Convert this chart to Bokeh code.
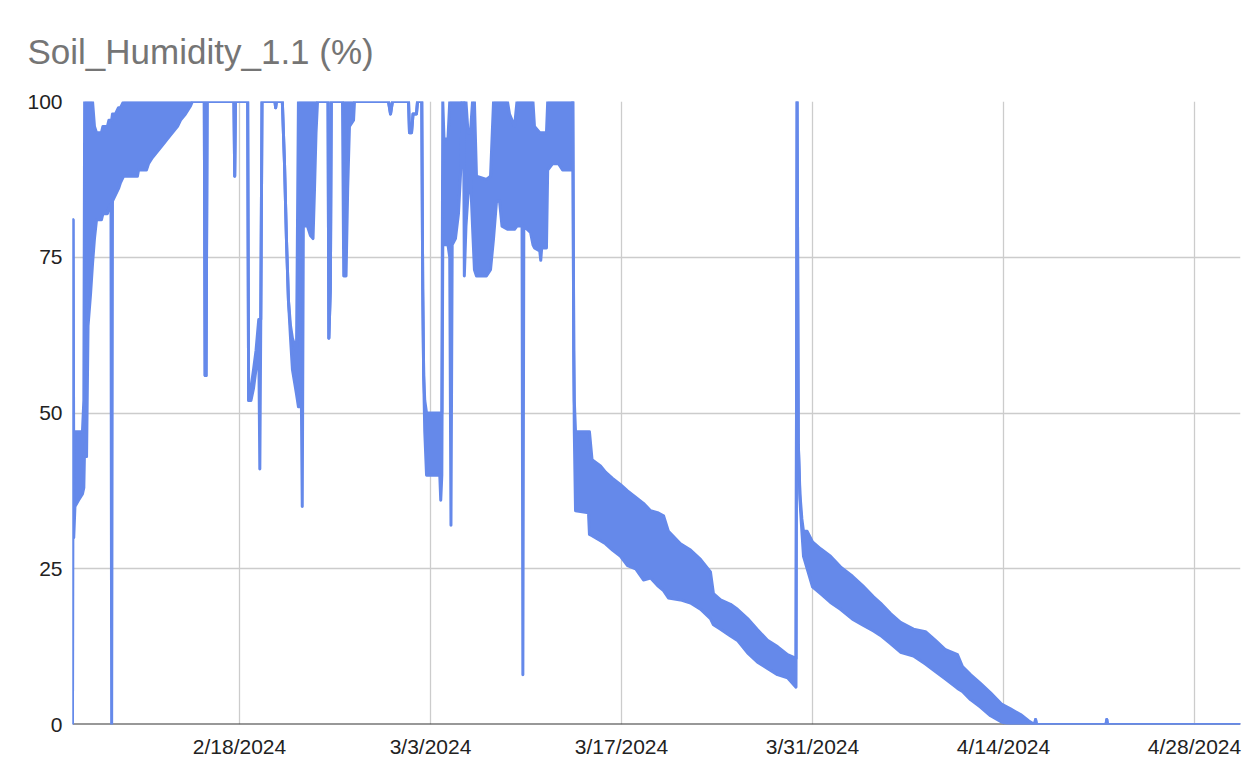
from bokeh.plotting import figure
from bokeh.models import FixedTicker, Range1d, Span, ColumnDataSource
from bokeh.embed import file_html
from bokeh.resources import INLINE

# time: days since 2024-02-18 00:00
t_days = [
    -12.24, -12.20, -12.15, -12.06, -11.80, -11.51, -11.41, -11.35, -11.21, -11.10,
    -10.92, -10.77, -10.63, -10.48, -10.12, -10.01, -9.68, -9.57, -9.42, -9.37,
    -9.31, -9.09, -8.87, -8.72, -8.50, -7.48, -7.40, -6.82, -6.67, -6.38,
    -6.01, -5.64, -5.28, -4.91, -4.54, -4.32, -3.96, -3.59, -3.45, -2.58,
    -2.52, -2.45, -2.37, -0.41, -0.35, -0.29, 0.60, 0.67, 0.84, 1.03,
    1.21, 1.41, 1.49, 1.56, 1.65, 2.60, 2.65, 2.71, 3.14, 3.30,
    3.44, 3.59, 3.74, 3.88, 4.03, 4.18, 4.32, 4.54, 4.60, 4.68,
    4.98, 5.20, 5.39, 5.50, 5.61, 5.72, 6.49, 6.55, 6.66, 6.73,
    7.55, 7.64, 7.81, 7.93, 8.06, 8.36, 8.43, 10.92, 11.07, 11.21,
    12.39, 12.46, 12.61, 12.72, 12.97, 13.05, 13.36, 13.43, 13.50, 13.58,
    13.71, 14.68, 14.75, 14.83, 14.90, 14.99, 15.28, 15.41, 15.50, 15.59,
    15.83, 16.05, 16.24, 16.31, 16.42, 16.48, 16.60, 16.75, 16.93, 17.08,
    17.22, 17.37, 18.10, 18.40, 18.62, 18.84, 19.06, 19.24, 19.64, 19.79,
    20.16, 20.34, 20.71, 20.77, 20.84, 21.33, 21.51, 21.62, 22.01, 22.08,
    22.15, 22.50, 22.59, 22.94, 23.38, 23.68, 24.37, 24.43, 24.50, 24.54,
    24.63, 25.58, 25.65, 25.84, 26.46, 26.83, 27.34, 27.93, 28.44, 29.03,
    29.61, 30.13, 30.64, 31.08, 31.44, 32.32, 33.06, 33.79, 34.52, 34.74,
    35.26, 35.99, 36.50, 37.24, 37.97, 38.70, 39.43, 40.17, 40.79, 40.87,
    40.96, 41.08, 41.22, 41.34, 41.61, 42.00, 42.59, 43.32, 44.05, 44.93,
    45.67, 46.47, 46.98, 47.72, 48.45, 49.40, 50.28, 51.01, 51.75, 52.63,
    52.99, 53.58, 54.31, 55.05, 55.85, 56.51, 57.25, 57.83, 58.27, 58.35,
    58.42, 63.51, 63.57, 63.62, 73.37,
]

# lower envelope of the reading (%)
humidity_low = [
    0, 81, 30, 35, 36, 37, 38, 45, 43, 64,
    69, 74, 78, 81, 81, 82, 82, 83, 83.5, 0,
    84, 85, 86, 87, 88, 88, 89, 89, 90, 91,
    92, 93, 94, 95, 96, 97, 98, 99.3, 100, 100,
    56, 56, 100, 100, 88, 100, 100, 52, 52, 54,
    57, 62, 41, 65, 100, 100, 99, 100, 100, 90,
    78, 68, 62, 57, 55, 53, 51, 51, 35, 80,
    80, 78.5, 78, 86, 95, 100, 100, 62, 70, 100,
    100, 72, 72, 86, 96, 97, 100, 100, 98, 100,
    100, 95, 95, 98, 98, 100, 100, 70, 56, 47,
    40, 40, 36, 40, 77, 77, 77, 75, 32, 77,
    78, 82, 90, 100, 100, 72, 80, 85, 88, 80,
    73, 72, 72, 73, 78, 84, 84, 80, 79.5, 79.5,
    79.5, 80, 80, 8, 80, 79, 77, 76.5, 76, 74.5,
    76.5, 76.5, 89, 90, 90, 89, 89, 100, 60, 47,
    34.3, 34, 30.5, 30.3, 29.5, 29, 28, 27, 25.5, 25,
    23.2, 23.5, 22.3, 21.5, 20.3, 20, 19.5, 18.5, 17, 16,
    15.3, 14.2, 13.5, 11.5, 10, 9, 8, 7.5, 6, 100,
    45, 36, 31, 27, 25, 22.1, 21, 19.6, 18.5, 16.9,
    16, 15, 14.3, 13, 11.6, 11, 9.7, 8.5, 7.3, 5.8,
    5.3, 4, 2.8, 1.4, 0.4, 0, 0, 0, 0, 0.8,
    0, 0, 0.8, 0, 0,
]

# upper envelope of the reading (%)
humidity_high = [
    0, 81, 42, 47, 47, 47, 52, 100, 100, 100,
    100, 100, 96, 95, 95, 96, 96, 97, 97, 97,
    98, 98, 99, 99, 100, 100, 100, 100, 100, 100,
    100, 100, 100, 100, 100, 100, 100, 100, 100, 100,
    56, 56, 100, 100, 88, 100, 100, 52, 54, 57,
    60, 65, 65, 65, 100, 100, 99, 100, 100, 90,
    78, 68, 64, 62, 61, 60, 100, 100, 100, 100,
    100, 100, 100, 100, 100, 100, 100, 62, 70, 100,
    100, 100, 100, 100, 100, 100, 100, 100, 98, 100,
    100, 95, 95, 98, 98, 100, 100, 70, 56, 52,
    50, 50, 50, 50, 100, 94, 94, 100, 100, 100,
    100, 100, 100, 100, 100, 100, 100, 95, 95, 100,
    100, 88, 87.5, 88, 100, 100, 100, 100, 100, 98,
    96, 100, 100, 100, 100, 100, 100, 96, 95, 95,
    95, 95, 100, 100, 100, 100, 100, 100, 60, 52,
    47, 47, 47, 42.5, 41.5, 40.5, 39.5, 38.5, 37.5, 36.5,
    35.5, 34.3, 34, 33.5, 31, 29, 28, 26.5, 24.5, 21,
    20, 19.3, 18.5, 17, 15.2, 13.5, 12.5, 11.2, 10.6, 100,
    45, 37, 33, 31, 31, 29.3, 28.2, 27, 25.3, 23.8,
    22.3, 20.5, 19.5, 17.8, 16.4, 15.3, 14.9, 13.5, 12, 11.2,
    9.3, 8, 6.6, 5.1, 3.3, 2.5, 1.6, 0.6, 0, 0.8,
    0, 0, 0.8, 0, 0,
]

x_tick_days = [0, 14, 28, 42, 56, 70]
x_tick_labels = ["2/18/2024", "3/3/2024", "3/17/2024", "3/31/2024", "4/14/2024", "4/28/2024"]
y_ticks = [0, 25, 50, 75, 100]

BLUE = "#6589ea"
FONT = "Liberation Sans"

p = figure(
    width=1244, height=768,
    output_backend="svg", toolbar_location=None,
    x_range=Range1d(t_days[0], t_days[-1]),
    y_range=Range1d(0, 100),
    min_border_left=72, min_border_right=4,
    min_border_top=101, min_border_bottom=44,
)
p.outline_line_color = None

p.title.text = "Soil_Humidity_1.1 (%)"
p.title.text_font = FONT
p.title.text_font_size = "35px"
p.title.text_font_style = "normal"
p.title.text_color = "#757575"
p.title.align = "left"
p.title.vertical_align = "top"
p.title.offset = -45
p.title.standoff = 57

src = ColumnDataSource(dict(t=t_days, lo=humidity_low, hi=humidity_high))

baseline = Span(location=0, dimension="width", line_color="#333333",
                line_width=2, level="underlay")
p.add_layout(baseline)

p.varea(x="t", y1="lo", y2="hi", source=src, fill_color=BLUE, fill_alpha=1.0)
p.line("t", "lo", source=src, line_color=BLUE, line_width=3, line_join="round")
p.line("t", "hi", source=src, line_color=BLUE, line_width=3, line_join="round")

p.xaxis.ticker = FixedTicker(ticks=x_tick_days)
p.xgrid.ticker = FixedTicker(ticks=x_tick_days)
p.xaxis.major_label_overrides = {d: lbl for d, lbl in zip(x_tick_days, x_tick_labels)}
p.yaxis.ticker = FixedTicker(ticks=y_ticks)
p.ygrid.ticker = FixedTicker(ticks=y_ticks)

for ax in (p.xaxis, p.yaxis):
    ax.axis_line_color = None
    ax.major_tick_line_color = None
    ax.minor_tick_line_color = None
    ax.major_tick_out = 0
    ax.major_tick_in = 0
    ax.minor_tick_out = 0
    ax.minor_tick_in = 0
    ax.major_label_text_font = FONT
    ax.major_label_text_font_size = "21px"
    ax.major_label_text_color = "#222222"
p.xaxis.major_label_standoff = 10
p.yaxis.major_label_standoff = 10

p.xgrid.grid_line_color = "#cccccc"
p.ygrid.grid_line_color = "#cccccc"
p.xgrid.grid_line_width = 1.3
p.ygrid.grid_line_width = 1.3

open("out.html", "w").write(file_html(p, INLINE))
